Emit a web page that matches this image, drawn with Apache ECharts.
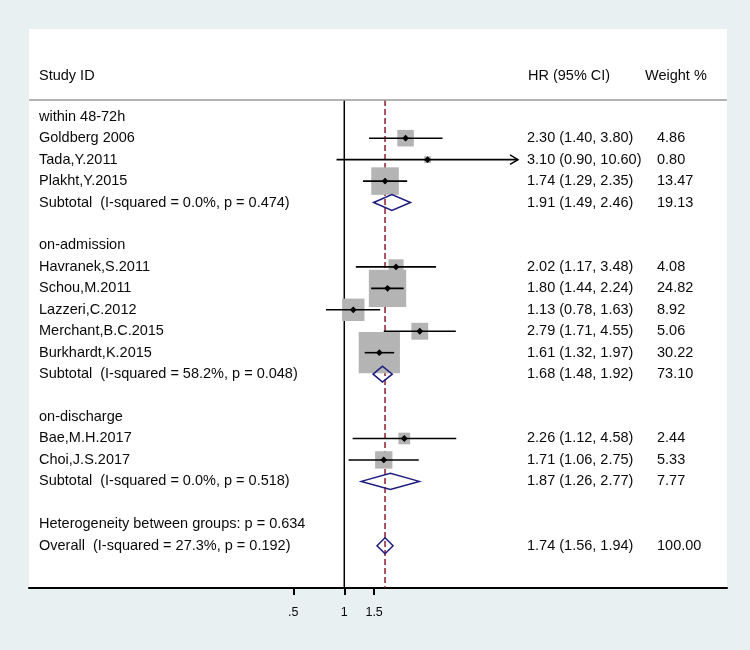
<!DOCTYPE html>
<html>
<head>
<meta charset="utf-8">
<script src="https://cdn.jsdelivr.net/npm/echarts@6/dist/echarts.min.js"></script>
<style>
html,body{margin:0;padding:0;background:#e8f0f2;}
#chart{width:750px;height:650px;}
</style>
</head>
<body>
<div id="chart"></div>
<script>
// ---------------- data ----------------
const studyNames  = ['Goldberg 2006','Tada,Y.2011','Plakht,Y.2015','Havranek,S.2011','Schou,M.2011','Lazzeri,C.2012','Merchant,B.C.2015','Burkhardt,K.2015','Bae,M.H.2017','Choi,J.S.2017'];
const studyHR     = [2.30, 3.10, 1.74, 2.02, 1.80, 1.13, 2.79, 1.61, 2.26, 1.71];
const studyLo     = [1.40, 0.90, 1.29, 1.17, 1.44, 0.78, 1.71, 1.32, 1.12, 1.06];
const studyHi     = [3.80, 10.60, 2.35, 3.48, 2.24, 1.63, 4.55, 1.97, 4.58, 2.75];
const studyWeight = [4.86, 0.80, 13.47, 4.08, 24.82, 8.92, 5.06, 30.22, 2.44, 5.33];
const studyRow    = [1, 2, 3, 7, 8, 9, 10, 11, 15, 16];

const pooledLabels = ['Subtotal  (I-squared = 0.0%, p = 0.474)','Subtotal  (I-squared = 58.2%, p = 0.048)','Subtotal  (I-squared = 0.0%, p = 0.518)','Overall  (I-squared = 27.3%, p = 0.192)'];
const pooledHR     = [1.91, 1.68, 1.87, 1.74];
const pooledLo     = [1.49, 1.48, 1.26, 1.56];
const pooledHi     = [2.46, 1.92, 2.77, 1.94];
const pooledWeight = [19.13, 73.10, 7.77, 100.00];
const pooledRow    = [4, 12, 17, 20];

const groupLabels = ['within 48-72h','on-admission','on-discharge','Heterogeneity between groups: p = 0.634'];
const groupRow    = [0, 6, 14, 19];

const headers = ['Study ID', 'HR (95% CI)', 'Weight %'];
const tickValues = [0.5, 1, 1.5];
const tickLabels = ['.5', '1', '1.5'];
const nullValue = 1;
const overallHR = pooledHR[3];

// ---------------- styling ----------------
const FONT = '"Liberation Sans", Arial, sans-serif';
const FS = 14.5;
const TXT = '#0a0a0a';
const BOX_SCALE = 7.5;
const CI_DISPLAY_MAX = 10;
const COL_LEFT = 39, COL_HR = 527, COL_WT = 657;

const fmtCI = (e, l, h) => e.toFixed(2) + ' (' + l.toFixed(2) + ', ' + h.toFixed(2) + ')';

const labelRows = [];
groupLabels.forEach((t, i) => labelRows.push({row: groupRow[i], left: t, hr: '', wt: ''}));
studyNames.forEach((n, i) => labelRows.push({row: studyRow[i], left: n, hr: fmtCI(studyHR[i], studyLo[i], studyHi[i]), wt: studyWeight[i].toFixed(2)}));
pooledLabels.forEach((n, i) => labelRows.push({row: pooledRow[i], left: n, hr: fmtCI(pooledHR[i], pooledLo[i], pooledHi[i]), wt: pooledWeight[i].toFixed(2)}));

const studyData = studyNames.map((n, i) => [studyHR[i], studyLo[i], studyHi[i], studyRow[i], studyWeight[i]]);
const pooledData = pooledLabels.map((n, i) => [pooledHR[i], pooledLo[i], pooledHi[i], pooledRow[i], pooledWeight[i]]);

const chart = echarts.init(document.getElementById('chart'), null, {renderer: 'canvas'});

function renderStudy(params, api) {
  const hr = api.value(0), lo = api.value(1), hi = api.value(2), row = api.value(3), w = api.value(4);
  const c = api.coord([hr, row]);
  const pl = api.coord([lo, row]);
  const ph = api.coord([hi, row]);
  const side = BOX_SCALE * Math.sqrt(w);
  const d = 3.4;
  const children = [
    {type: 'rect', z2: 1, shape: {x: c[0] - side / 2, y: c[1] - side / 2, width: side, height: side}, style: {fill: '#b4b4b4'}},
    {type: 'line', z2: 2, shape: {x1: pl[0], y1: c[1], x2: ph[0], y2: c[1]}, style: {stroke: '#000', lineWidth: 1.6}},
    {type: 'polygon', z2: 3, shape: {points: [[c[0] - d, c[1]], [c[0], c[1] - d], [c[0] + d, c[1]], [c[0], c[1] + d]]}, style: {fill: '#000'}}
  ];
  if (hi > CI_DISPLAY_MAX) {
    children.push({type: 'polyline', z2: 2, shape: {points: [[ph[0] - 8, c[1] - 4.7], [ph[0], c[1]], [ph[0] - 8, c[1] + 4.7]]}, style: {stroke: '#000', lineWidth: 1.4, fill: null}});
  }
  return {type: 'group', children: children};
}

function renderPooled(params, api) {
  const hr = api.value(0), lo = api.value(1), hi = api.value(2), row = api.value(3);
  const c = api.coord([hr, row]);
  const pl = api.coord([lo, row]);
  const ph = api.coord([hi, row]);
  const h = 8;
  return {
    type: 'polygon', z2: 4,
    shape: {points: [[pl[0], c[1]], [c[0], c[1] - h], [ph[0], c[1]], [c[0], c[1] + h]]},
    style: {stroke: '#1c1c80', lineWidth: 1.5, fill: null}
  };
}

function renderRef(params, api) {
  const x = api.coord([api.value(0), 0])[0];
  const cs = params.coordSys;
  const dashed = params.dataIndex === 1;
  return {
    type: 'line', z2: 0,
    shape: {x1: x, y1: cs.y, x2: x, y2: cs.y + cs.height},
    style: dashed ? {stroke: '#8e1b2e', lineWidth: 1.5, lineDash: [6, 3]} : {stroke: '#000', lineWidth: 1.5}
  };
}

function renderLabel(params, api) {
  const r = labelRows[params.dataIndex];
  const y = api.coord([1, r.row])[1];
  const mk = (text, x) => ({type: 'text', x: x, y: y, style: {text: text, fill: TXT, font: FS + 'px ' + FONT, align: 'left', verticalAlign: 'middle'}});
  return {type: 'group', children: [mk(r.left, COL_LEFT), mk(r.hr, COL_HR), mk(r.wt, COL_WT)]};
}

const option = {
  backgroundColor: '#e8f0f2',
  animation: false,
  graphic: [
    {type: 'rect', z: -10, shape: {x: 29, y: 29, width: 698, height: 559}, style: {fill: '#ffffff'}},
    {type: 'line', z: 5, shape: {x1: 29, y1: 100, x2: 727, y2: 100}, style: {stroke: '#9a9a9a', lineWidth: 1.5}},
    {type: 'text', z: 5, x: COL_LEFT, y: 76, style: {text: headers[0], fill: TXT, font: FS + 'px ' + FONT, align: 'left', verticalAlign: 'middle'}},
    {type: 'text', z: 5, x: 528, y: 76, style: {text: headers[1], fill: TXT, font: FS + 'px ' + FONT, align: 'left', verticalAlign: 'middle'}},
    {type: 'text', z: 5, x: 645, y: 76, style: {text: headers[2], fill: TXT, font: FS + 'px ' + FONT, align: 'left', verticalAlign: 'middle'}}
  ],
  grid: {left: 29, right: 23, top: 100, bottom: 62, containLabel: false},
  xAxis: {
    type: 'log',
    logBase: 10,
    min: 0.01379,
    max: 181.3,
    position: 'bottom',
    axisLine: {show: true, onZero: false, lineStyle: {color: '#000', width: 2}},
    axisTick: {show: true, inside: false, length: 7, lineStyle: {color: '#000', width: 2}, customValues: tickValues},
    axisLabel: {
      show: true, customValues: tickValues, margin: 18, color: TXT, fontSize: 12.5, fontFamily: FONT,
      formatter: function (v) {
        const i = tickValues.findIndex(t => Math.abs(t - v) < 1e-6);
        return i >= 0 ? tickLabels[i] : '';
      }
    },
    splitLine: {show: false},
    minorTick: {show: false}
  },
  yAxis: {type: 'value', min: -0.78, max: 21.97, inverse: true, show: false},
  series: [
    {type: 'custom', z: 2, renderItem: renderRef, data: [[nullValue, 0], [overallHR, 0]], silent: true},
    {type: 'custom', z: 3, renderItem: renderStudy, encode: {x: [0, 1, 2], y: 3}, data: studyData, silent: true},
    {type: 'custom', z: 4, renderItem: renderPooled, encode: {x: [0, 1, 2], y: 3}, data: pooledData, silent: true},
    {type: 'custom', z: 5, renderItem: renderLabel, encode: {x: 0, y: 1}, data: labelRows.map(r => [1, r.row]), silent: true}
  ]
};
chart.setOption(option);
</script>
</body>
</html>
